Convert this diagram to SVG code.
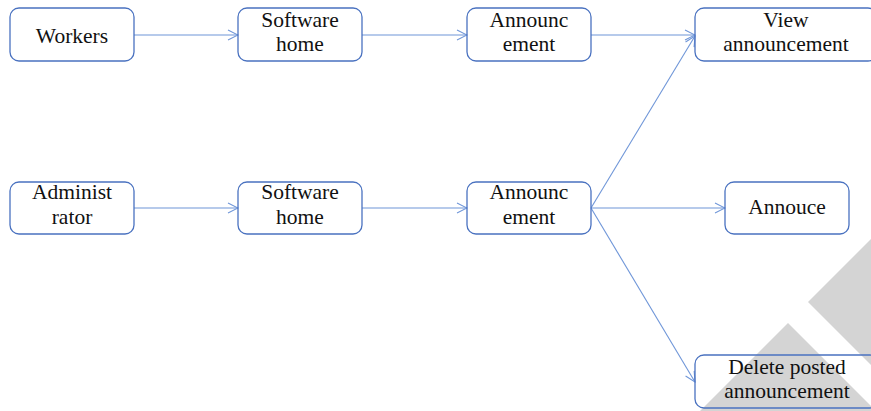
<svg xmlns="http://www.w3.org/2000/svg" width="871" height="411" viewBox="0 0 871 411">
<defs>
<marker id="ah" markerWidth="12" markerHeight="12" refX="11" refY="6" orient="auto" markerUnits="userSpaceOnUse">
<path d="M1,1 L11,6 L1,11" fill="none" stroke="#6f96d8" stroke-width="1.1"/>
</marker>
</defs>
<style>
.box{fill:none;stroke:#4a72c0;stroke-width:1.3}
.t{font-family:'Liberation Serif','DejaVu Serif',serif;font-size:21.5px;fill:#111;text-anchor:middle}
.e{fill:none;stroke:#6f96d8;stroke-width:1.1;marker-end:url(#ah)}
.wm{fill:#d4d4d4}
</style>
<rect width="871" height="411" fill="#fff"/>
<g id="watermark">
<polygon class="wm" points="808,302 871,239 871,365"/>
<polygon class="wm" points="788,323 700,411 876,411"/>
</g>
<g id="connectors">
<line class="e" x1="134" y1="35" x2="238" y2="35"/>
<line class="e" x1="362" y1="35" x2="467" y2="35"/>
<line class="e" x1="591" y1="35" x2="695" y2="35"/>
<line class="e" x1="134" y1="208" x2="238" y2="208"/>
<line class="e" x1="362" y1="208" x2="467" y2="208"/>
<line class="e" x1="591" y1="208" x2="695" y2="36"/>
<line class="e" x1="591" y1="208" x2="725" y2="208"/>
<line class="e" x1="591" y1="208" x2="695" y2="382"/>
</g>
<g id="workers"><rect class="box" x="10" y="8" width="124" height="53" rx="9"/><text class="t" x="72" y="43">Workers</text></g>
<g id="software-home-1"><rect class="box" x="238" y="8" width="124" height="53" rx="9"/><text class="t" x="300" y="27">Software</text><text class="t" x="300" y="51">home</text></g>
<g id="announcement-1"><rect class="box" x="467" y="8" width="124" height="53" rx="9"/><text class="t" x="529" y="27">Announc</text><text class="t" x="529" y="51">ement</text></g>
<g id="view-announcement"><rect class="box" x="695" y="8" width="182" height="53" rx="9"/><text class="t" x="786" y="27">View</text><text class="t" x="786" y="51">announcement</text></g>
<g id="administrator"><rect class="box" x="10" y="182" width="124" height="52" rx="9"/><text class="t" x="72" y="199">Administ</text><text class="t" x="72" y="224">rator</text></g>
<g id="software-home-2"><rect class="box" x="238" y="182" width="124" height="52" rx="9"/><text class="t" x="300" y="199">Software</text><text class="t" x="300" y="224">home</text></g>
<g id="announcement-2"><rect class="box" x="467" y="182" width="124" height="52" rx="9"/><text class="t" x="529" y="199">Announc</text><text class="t" x="529" y="224">ement</text></g>
<g id="annouce"><rect class="box" x="725" y="182" width="124" height="52" rx="9"/><text class="t" x="787" y="214">Annouce</text></g>
<g id="delete-posted"><rect class="box" x="695" y="355" width="184" height="53" rx="9"/><text class="t" x="787" y="374">Delete posted</text><text class="t" x="787" y="398">announcement</text></g>
</svg>
